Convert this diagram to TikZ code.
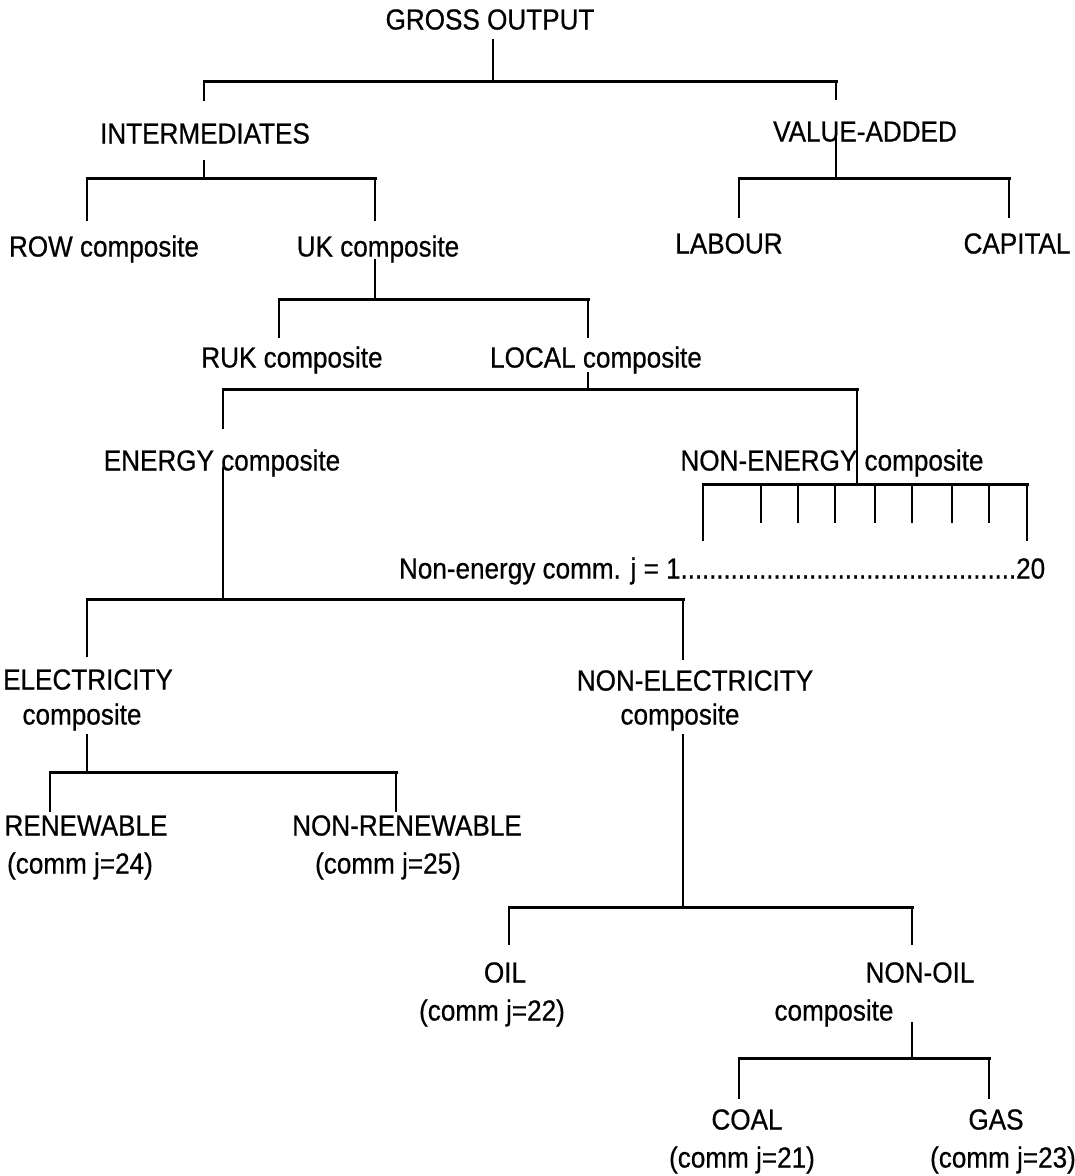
\documentclass[tikz,border=0pt]{standalone}
\usepackage{fontspec}
\setmainfont{Liberation Sans}[FakeStretch=0.9,FakeBold=0.6]
\newcommand\commdots{\xleaders\hbox to 7pt{\hss.\hss}\hfill}

\begin{document}
\begin{tikzpicture}[x=1pt,y=-1pt,
  every node/.style={inner sep=0pt,text height=21pt,text depth=0pt,
    font=\fontsize{29}{36}\selectfont},
  bar/.style={line width=3pt,line cap=rect},
  stem/.style={line width=2.2pt}]
  \useasboundingbox (0,0) rectangle (1075,1176);
  % labels
  \node (gross) at (490,19) {GROSS OUTPUT};
  \node (inter) at (205,133) {INTERMEDIATES};
  \node (vadd) at (865,131) {VALUE-ADDED};
  \node (row) at (104,246) {ROW composite};
  \node (uk) at (378,246) {UK composite};
  \node (labour) at (729,243) {LABOUR};
  \node (capital) at (1017,243) {CAPITAL};
  \node (ruk) at (292,357) {RUK composite};
  \node (local) at (596,357) {LOCAL composite};
  \node (energy) at (222,460) {ENERGY composite};
  \node (nonenergy) at (832,460) {NON-ENERGY composite};
  \node (necomm) at (722,568) {\makebox[646pt][l]{Non-energy comm. j = 1\commdots20}};
  \node (elec) at (88,679) {ELECTRICITY};
  \node (elec-2) at (82,714) {composite};
  \node (nonelec) at (695,680) {NON-ELECTRICITY};
  \node (nonelec-2) at (680,714) {composite};
  \node (renew) at (86,825) {RENEWABLE};
  \node (renew-2) at (80,863) {(comm j=24)};
  \node (nonrenew) at (407,825) {NON-RENEWABLE};
  \node (nonrenew-2) at (388,863) {(comm j=25)};
  \node (oil) at (505,972) {OIL};
  \node (oil-2) at (492,1010) {(comm j=22)};
  \node (nonoil) at (920,972) {NON-OIL};
  \node (nonoil-2) at (834,1010) {composite};
  \node (coal) at (747,1119) {COAL};
  \node (coal-2) at (742,1157) {(comm j=21)};
  \node (gas) at (996,1119) {GAS};
  \node (gas-2) at (1003,1157) {(comm j=23)};
  % gross output
  \coordinate (go-s) at (493,39);
  \coordinate (go-j) at (493,81);
  \draw[stem] (go-s) -- (go-j);
  \draw[bar] (204,81) coordinate (go-l) -- (836,81) coordinate (go-r);
  \draw[stem] (go-l) -- ++(0,20) (go-r) -- ++(0,19);
  % intermediates
  \coordinate (in-s) at (204,160);
  \coordinate (in-j) at (204,178);
  \draw[stem] (in-s) -- (in-j);
  \draw[bar] (87,178) coordinate (in-l) -- (375,178) coordinate (in-r);
  \draw[stem] (in-l) -- ++(0,43) (in-r) -- ++(0,43);
  % value-added
  \coordinate (va-s) at (836,135);
  \coordinate (va-j) at (836,178);
  \draw[stem] (va-s) -- (va-j);
  \draw[bar] (739,178) coordinate (va-l) -- (1009,178) coordinate (va-r);
  \draw[stem] (va-l) -- ++(0,40) (va-r) -- ++(0,40);
  % uk
  \coordinate (uk-s) at (375,259);
  \coordinate (uk-j) at (375,299);
  \draw[stem] (uk-s) -- (uk-j);
  \draw[bar] (279,299) coordinate (uk-l) -- (588,299) coordinate (uk-r);
  \draw[stem] (uk-l) -- ++(0,39) (uk-r) -- ++(0,39);
  % local
  \coordinate (lo-s) at (588,372);
  \coordinate (lo-j) at (588,389);
  \draw[stem] (lo-s) -- (lo-j);
  \draw[bar] (223,389) coordinate (lo-l) -- (857,389) coordinate (lo-r);
  \draw[stem] (lo-l) -- ++(0,40) (lo-r) -- ++(0,95);
  % energy
  \coordinate (en-s) at (223,467);
  \coordinate (en-j) at (223,599);
  \draw[stem] (en-s) -- (en-j);
  \draw[bar] (87,599) coordinate (en-l) -- (683,599) coordinate (en-r);
  \draw[stem] (en-l) -- ++(0,58) (en-r) -- ++(0,61);
  % non-energy commodities
  \draw[bar] (703,484) coordinate (ne-l) -- (1027,484) coordinate (ne-r);
  \draw[stem] (ne-l) -- ++(0,57) (ne-r) -- ++(0,57);
  \foreach \x in {761,798,835,875,912,952,989}
    \draw[stem] (\x,484) -- ++(0,39);
  % electricity
  \coordinate (el-s) at (87,734);
  \coordinate (el-j) at (87,772);
  \draw[stem] (el-s) -- (el-j);
  \draw[bar] (50,772) coordinate (el-l) -- (396,772) coordinate (el-r);
  \draw[stem] (el-l) -- ++(0,40) (el-r) -- ++(0,40);
  % non-electricity
  \coordinate (nl-s) at (683,734);
  \coordinate (nl-j) at (683,907);
  \draw[stem] (nl-s) -- (nl-j);
  \draw[bar] (509,907) coordinate (nl-l) -- (912,907) coordinate (nl-r);
  \draw[stem] (nl-l) -- ++(0,38) (nl-r) -- ++(0,38);
  % non-oil
  \coordinate (no-s) at (912,1022);
  \coordinate (no-j) at (912,1058);
  \draw[stem] (no-s) -- (no-j);
  \draw[bar] (739,1058) coordinate (no-l) -- (989,1058) coordinate (no-r);
  \draw[stem] (no-l) -- ++(0,41) (no-r) -- ++(0,41);
\end{tikzpicture}
\end{document}
